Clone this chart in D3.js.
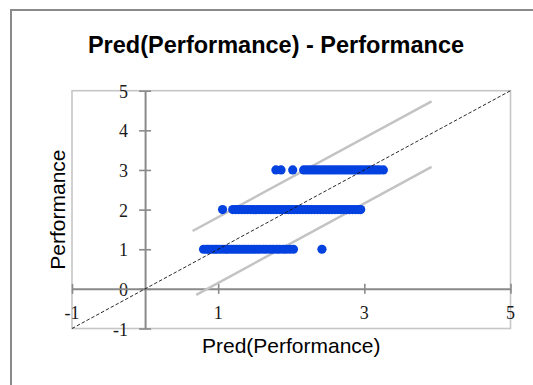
<!DOCTYPE html>
<html>
<head>
<meta charset="utf-8">
<script src="https://cdn.jsdelivr.net/npm/d3@7"></script>
<style>
  html, body { margin: 0; padding: 0; background: #fff; }
  svg { display: block; }
</style>
</head>
<body>
<svg id="chart" width="533" height="385"></svg>
<script>
// Observed Performance levels and the predicted values of the cases at each level
const levels = [1, 2, 3];
const predAtLevel1 = [0.80, 0.84, 0.87, 0.91, 0.95, 0.98, 1.02, 1.06, 1.10, 1.13, 1.17, 1.21, 1.25, 1.29,
  1.33, 1.37, 1.41, 1.45, 1.49, 1.53, 1.57, 1.62, 1.66, 1.71, 1.75, 1.80, 1.84, 1.89, 1.93, 1.98, 2.03, 2.42];
const predAtLevel2 = [1.06, 1.20, 1.24, 1.28, 1.32, 1.36, 1.40, 1.44, 1.48, 1.52, 1.56, 1.60, 1.64, 1.68,
  1.72, 1.76, 1.80, 1.84, 1.88, 1.92, 1.96, 2.00, 2.04, 2.08, 2.12, 2.16, 2.20, 2.24, 2.28, 2.32, 2.36,
  2.40, 2.44, 2.48, 2.52, 2.56, 2.60, 2.64, 2.68, 2.72, 2.76, 2.80, 2.84, 2.88, 2.92, 2.95];
const predAtLevel3 = [1.79, 1.86, 2.02, 2.17, 2.21, 2.25, 2.29, 2.33, 2.37, 2.41, 2.45, 2.49, 2.53, 2.57,
  2.61, 2.65, 2.69, 2.73, 2.77, 2.81, 2.85, 2.89, 2.93, 2.97, 3.01, 3.05, 3.09, 3.13, 3.17, 3.21, 3.26];

// Band lines around the fit (endpoints) and the identity line
const upperBandX = [0.65, 3.92];
const upperBandY = [1.46, 4.73];
const lowerBandX = [0.70, 3.92];
const lowerBandY = [-0.15, 3.08];
const identityXY = [-1, 5];

// Axis ticks
const xTicks = [-1, 1, 3, 5];
const yTicks = [-1, 0, 1, 2, 3, 4, 5];
const xDomain = [-1, 5];
const yDomain = [-1, 5];

const svg = d3.select("#chart");

// Outer chart frame
svg.append("rect")
  .attr("x", 11).attr("y", 10).attr("width", 560).attr("height", 420)
  .attr("fill", "none").attr("stroke", "#8a8a8a").attr("stroke-width", 2);

// Title
svg.append("text")
  .attr("x", 276).attr("y", 53)
  .attr("text-anchor", "middle")
  .attr("font-family", "Liberation Sans, Arial, sans-serif")
  .attr("font-weight", "bold").attr("font-size", 23.5)
  .attr("fill", "#000")
  .text("Pred(Performance) - Performance");

const plot = { left: 72, right: 510.5, top: 90.7, bottom: 328.5 };
const x = d3.scaleLinear().domain(xDomain).range([plot.left, plot.right]);
const y = d3.scaleLinear().domain(yDomain).range([plot.bottom, plot.top]);

// Plot area border
svg.append("rect")
  .attr("x", plot.left).attr("y", plot.top)
  .attr("width", plot.right - plot.left).attr("height", plot.bottom - plot.top)
  .attr("fill", "none").attr("stroke", "#c6c6c6").attr("stroke-width", 1.6);

const axisColor = "#8a8a8a";
const tickFont = "Liberation Serif, Times New Roman, serif";
const tickSize = 18;

// Tick labels (drawn first so the axis lines pass over them)
svg.append("g").selectAll("text").data(xTicks).join("text")
  .attr("x", d => x(d)).attr("y", 313)
  .attr("text-anchor", "middle").attr("dominant-baseline", "central")
  .attr("font-family", tickFont).attr("font-size", tickSize).attr("fill", "#1a1a1a")
  .text(d => d);
svg.append("g").selectAll("text").data(yTicks).join("text")
  .attr("x", 128).attr("y", d => y(d) + 1)
  .attr("text-anchor", "end").attr("dominant-baseline", "central")
  .attr("font-family", tickFont).attr("font-size", tickSize).attr("fill", "#1a1a1a")
  .text(d => d);

// X axis through y = 0 with crossing ticks
const xAxis = svg.append("g").attr("transform", `translate(0,${y(0)})`)
  .call(d3.axisBottom(x).tickValues(xTicks).tickSizeInner(0).tickSizeOuter(0).tickFormat(""));
xAxis.select(".domain").attr("stroke", axisColor).attr("stroke-width", 2);
xAxis.selectAll(".tick line").remove();
xAxis.selectAll(".tick").append("line")
  .attr("y1", -5).attr("y2", 5).attr("stroke", axisColor).attr("stroke-width", 1.6);

// Y axis through x = 0 with crossing ticks
const yAxis = svg.append("g").attr("transform", `translate(${x(0)},0)`)
  .call(d3.axisLeft(y).tickValues(yTicks).tickSizeInner(0).tickSizeOuter(0).tickFormat(""));
yAxis.select(".domain").attr("stroke", axisColor).attr("stroke-width", 2);
yAxis.selectAll(".tick line").remove();
yAxis.selectAll(".tick").append("line")
  .attr("x1", -6).attr("x2", 6).attr("stroke", axisColor).attr("stroke-width", 1.6);

// Band lines
const line = d3.line().x(d => x(d[0])).y(d => y(d[1]));
[[upperBandX, upperBandY], [lowerBandX, lowerBandY]].forEach(([bx, by]) => {
  svg.append("path")
    .attr("d", line(d3.zip(bx, by)))
    .attr("fill", "none").attr("stroke", "#c3c3c3").attr("stroke-width", 2.5);
});

// Points
const rows = [predAtLevel1, predAtLevel2, predAtLevel3];
const pts = rows.flatMap((xs, i) => xs.map(v => [v, levels[i]]));
svg.append("g").selectAll("circle").data(pts).join("circle")
  .attr("cx", d => x(d[0])).attr("cy", d => y(d[1])).attr("r", 4.6)
  .attr("fill", "#0341e0");

// Identity line
svg.append("path")
  .attr("d", line([[identityXY[0], identityXY[0]], [identityXY[1], identityXY[1]]]))
  .attr("fill", "none").attr("stroke", "#111").attr("stroke-width", 0.9)
  .attr("stroke-dasharray", "3.5,2");

// Axis titles
svg.append("text")
  .attr("x", (plot.left + plot.right) / 2).attr("y", 353)
  .attr("text-anchor", "middle")
  .attr("font-family", "Liberation Sans, Arial, sans-serif").attr("font-size", 21)
  .attr("fill", "#000")
  .text("Pred(Performance)");
svg.append("text")
  .attr("transform", `translate(64.5,${(plot.top + plot.bottom) / 2}) rotate(-90)`)
  .attr("text-anchor", "middle")
  .attr("font-family", "Liberation Sans, Arial, sans-serif").attr("font-size", 21)
  .attr("fill", "#000")
  .text("Performance");
</script>
</body>
</html>
